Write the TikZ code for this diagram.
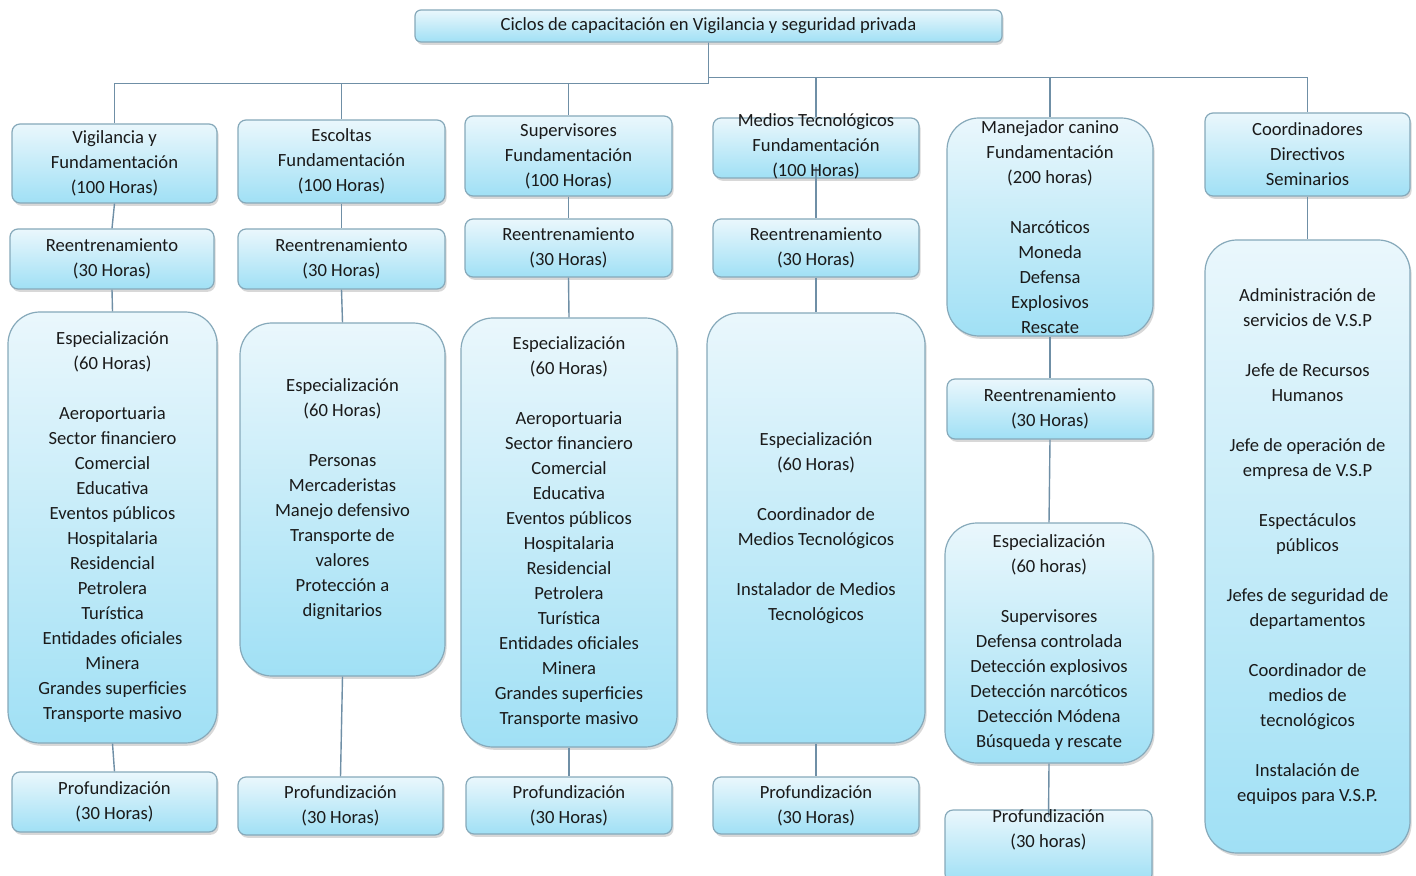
\documentclass[tikz,border=0pt]{standalone}
\usepackage{fontspec}
\setmainfont{Carlito}
\usetikzlibrary{shadows}
\definecolor{boxtop}{HTML}{EAF7FC}
\definecolor{boxbot}{HTML}{A0E0F5}
\definecolor{boxline}{HTML}{86A9BA}
\definecolor{lineclr}{HTML}{6F8FA6}
\definecolor{txt}{HTML}{1A1A1A}
\newcommand{\fsz}{\fontsize{9.3}{12.5}\selectfont}
\newcommand{\mkbox}[7]{\node[#6, minimum width=#4*0.5pt, minimum height=#5*0.5pt] (#1) at (#2,#3) {#7};}
\tikzset{
  box/.style={draw=boxline, line width=0.6pt, rounded corners=4pt,
    top color=boxtop, bottom color=boxbot, align=center, inner sep=0pt,
    font=\fsz, text=txt,
    drop shadow={opacity=0.3, shadow xshift=0.8pt, shadow yshift=-1.4pt}},
  bigbox/.style={box, rounded corners=16pt},
  plain/.style={align=center, inner sep=0pt, font=\fsz, text=txt},
  conn/.style={draw=lineclr, line width=0.7pt},
}
\begin{document}
\begin{tikzpicture}[x=0.5pt, y=-0.5pt]
\useasboundingbox (0,0) rectangle (1416,876);
\fill[white] (0,0) rectangle (1416,876);

% top
\mkbox{top}{708.5}{26}{587}{32}{box, rounded corners=3pt}{Ciclos de capacitación en Vigilancia y seguridad privada}

% column 1
\mkbox{a1}{114.5}{163.5}{205}{79}{box}{Vigilancia y\\Fundamentación\\(100 Horas)}
\mkbox{a2}{112}{259}{204}{60}{box}{Reentrenamiento\\(30 Horas)}
\mkbox{a3}{112.5}{527.5}{209}{431}{bigbox}{Especialización\\(60 Horas)\\[12.5pt]Aeroportuaria\\Sector financiero\\Comercial\\Educativa\\Eventos públicos\\Hospitalaria\\Residencial\\Petrolera\\Turística\\Entidades oficiales\\Minera\\Grandes superficies\\Transporte masivo}
\mkbox{a4}{114.5}{802}{205}{60}{box}{Profundización\\(30 Horas)}

% column 2
\mkbox{b1}{341.5}{161.5}{207}{83}{box}{Escoltas\\Fundamentación\\(100 Horas)}
\mkbox{b2}{341.5}{259}{207}{60}{box}{Reentrenamiento\\(30 Horas)}
\mkbox{b3}{342.5}{499.5}{205}{353}{bigbox}{Especialización\\(60 Horas)\\[12.5pt]Personas\\Mercaderistas\\Manejo defensivo\\Transporte de\\valores\\Protección a\\dignitarios}
\mkbox{b4}{340.5}{806}{205}{58}{box}{Profundización\\(30 Horas)}

% column 3
\mkbox{c1}{568.5}{156}{207}{80}{box}{Supervisores\\Fundamentación\\(100 Horas)}
\mkbox{c2}{568.5}{248}{207}{58}{box}{Reentrenamiento\\(30 Horas)}
\mkbox{c3}{569}{532.5}{216}{429}{bigbox}{Especialización\\(60 Horas)\\[12.5pt]Aeroportuaria\\Sector financiero\\Comercial\\Educativa\\Eventos públicos\\Hospitalaria\\Residencial\\Petrolera\\Turística\\Entidades oficiales\\Minera\\Grandes superficies\\Transporte masivo}
\mkbox{c4}{569}{805.5}{206}{57}{box}{Profundización\\(30 Horas)}

% column 4
\mkbox{d1}{816}{148}{206}{60}{box}{}
\mkbox{d2}{816}{248}{206}{58}{box}{Reentrenamiento\\(30 Horas)}
\mkbox{d3}{816}{528}{218}{430}{bigbox}{Especialización\\(60 Horas)\\[12.5pt]Coordinador de\\Medios Tecnológicos\\[12.5pt]Instalador de Medios\\Tecnológicos}
\mkbox{d4}{816}{805.5}{206}{57}{box}{Profundización\\(30 Horas)}

% column 5
\mkbox{e1}{1050}{227}{206}{218}{bigbox}{Manejador canino\\Fundamentación\\(200 horas)\\[12.5pt]Narcóticos\\Moneda\\Defensa\\Explosivos\\Rescate}
\mkbox{e2}{1050}{409}{206}{60}{box}{Reentrenamiento\\(30 Horas)}
\mkbox{e3}{1049}{643}{208}{240}{bigbox}{Especialización\\(60 horas)\\[12.5pt]Supervisores\\Defensa controlada\\Detección explosivos\\Detección narcóticos\\Detección Módena\\Búsqueda y rescate}
\mkbox{e4}{1048.5}{846}{207}{72}{box}{}

% column 6
\mkbox{f1}{1307.5}{154.5}{205}{83}{box}{Coordinadores\\Directivos\\Seminarios}
\mkbox{f2}{1307.5}{546.5}{205}{613}{bigbox}{Administración de\\servicios de V.S.P\\[12.5pt]Jefe\ de Recursos\\Humanos\\[12.5pt]Jefe\ de operación de\\empresa de V.S.P\\[12.5pt]Espectáculos\\públicos\\[12.5pt]Jefes de seguridad de\\departamentos\\[12.5pt]Coordinador de\\medios de\\tecnológicos\\[12.5pt]Instalación de\\equipos\ para\ V.S.P.}

% connectors from top
\draw[conn] (top.south) -- ++(0,41) -| (a1.north);
\draw[conn] (top.south) -- ++(0,41) -| (b1.north);
\draw[conn] (top.south) -- ++(0,41) -| (c1.north);
\draw[conn] (top.south) -- ++(0,35) -| (d1.north);
\draw[conn] (top.south) -- ++(0,35) -| (e1.north);
\draw[conn] (top.south) -- ++(0,35) -| (f1.north);

% column chains
\draw[conn] (a1.south) -- (a2.north);
\draw[conn] (a2.south) -- (a3.north);
\draw[conn] (a3.south) -- (a4.north);
\draw[conn] (b1.south) -- (b2.north);
\draw[conn] (b2.south) -- (b3.north);
\draw[conn] (b3.south) -- (b4.north);
\draw[conn] (c1.south) -- (c2.north);
\draw[conn] (c2.south) -- (c3.north);
\draw[conn] (c3.south) -- (c4.north);
\draw[conn] ([yshift=6pt]d1.south) -- (d2.north);
\draw[conn] (d2.south) -- (d3.north);
\draw[conn] (d3.south) -- (d4.north);
\draw[conn] (e1.south) -- (e2.north);
\draw[conn] (e2.south) -- (e3.north);
\draw[conn] (e3.south) -- ([yshift=-4pt]e4.north);
\draw[conn] (f1.south) -- (f2.north);

% overflowing texts
\node[plain] (d1t) at (816,146) {Medios Tecnológicos\\Fundamentación\\(100 Horas)};
\node[plain] (e4t) at (1048.5,830) {Profundización\\(30 horas)};
\end{tikzpicture}
\end{document}
